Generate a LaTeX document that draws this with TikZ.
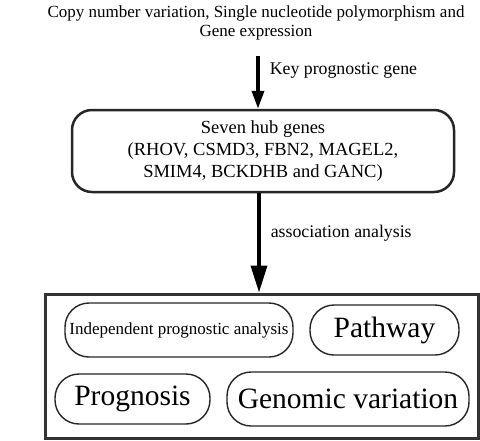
\documentclass[tikz,border=0pt]{standalone}
\usepackage{fontspec}
\setmainfont{Liberation Serif}
\usepackage{tikz}
\usetikzlibrary{arrows.meta, positioning, calc}
\tikzset{
  stagetext/.style={
    align=center, inner sep=0pt, font=\fontsize{17}{19}\selectfont
  },
  hubbox/.style={
    draw, rounded corners=20pt, line width=2.5pt, align=center,
    font=\fontsize{18.5}{22}\selectfont, fill=white, draw=black!85
  },
  resultframe/.style={
    draw, line width=3pt, draw=black!80, fill=white
  },
  pillbox/.style={
    draw, rounded corners=24pt, line width=1.4pt, align=center,
    font=\fontsize{29.5}{32}\selectfont, fill=white, draw=black!85, inner sep=0pt
  },
  flowarrow/.style={
    -{Triangle[length=18pt, width=12pt]}, line width=3.5pt, color=black
  },
  flowlabel/.style={
    font=\fontsize{17.8}{20}\selectfont, anchor=west, inner sep=0pt
  },
}

\begin{document}
\begin{tikzpicture}[x=1pt, y=-1pt]
  \useasboundingbox (0,0) rectangle (480,440);

  % === Input data ===
  \node[stagetext] (input) at (256, 23)
    {Copy number variation, Single nucleotide polymorphism and\\Gene expression};

  % === Hub genes ===
  \node[hubbox, minimum width=382pt, minimum height=82pt] (hub) at (263, 151)
    {Seven hub genes\\(RHOV, CSMD3, FBN2, MAGEL2,\\SMIM4, BCKDHB and GANC)};

  % === Results frame ===
  \node[resultframe, minimum width=433pt, minimum height=144pt] (frame) at (261.5, 366) {};

  \node[pillbox, minimum width=228pt, minimum height=54pt, font=\fontsize{17}{19}\selectfont] (indep) at (179, 330)
    {Independent prognostic analysis};
  \node[pillbox, minimum width=149pt, minimum height=50pt] (pathway) at (384.5, 330) {Pathway};
  \node[pillbox, minimum width=155pt, minimum height=50pt] (prognosis) at (132.5, 399) {Prognosis};
  \node[pillbox, minimum width=242pt, minimum height=54pt] (genomic) at (348, 399) {Genomic variation};

  % === Arrows ===
  \draw[flowarrow, shorten <=16pt] ([xshift=2pt]input.south) --
    node[flowlabel, pos=0.44, xshift=10pt] {Key prognostic gene} ([xshift=-5pt]hub.north);
  \draw[flowarrow, -{Triangle[length=27pt, width=16pt]}] ([xshift=-4pt]hub.south) --
    node[flowlabel, pos=0.4, xshift=10pt] {association analysis} ([xshift=-2.5pt]frame.north);

\end{tikzpicture}
\end{document}
